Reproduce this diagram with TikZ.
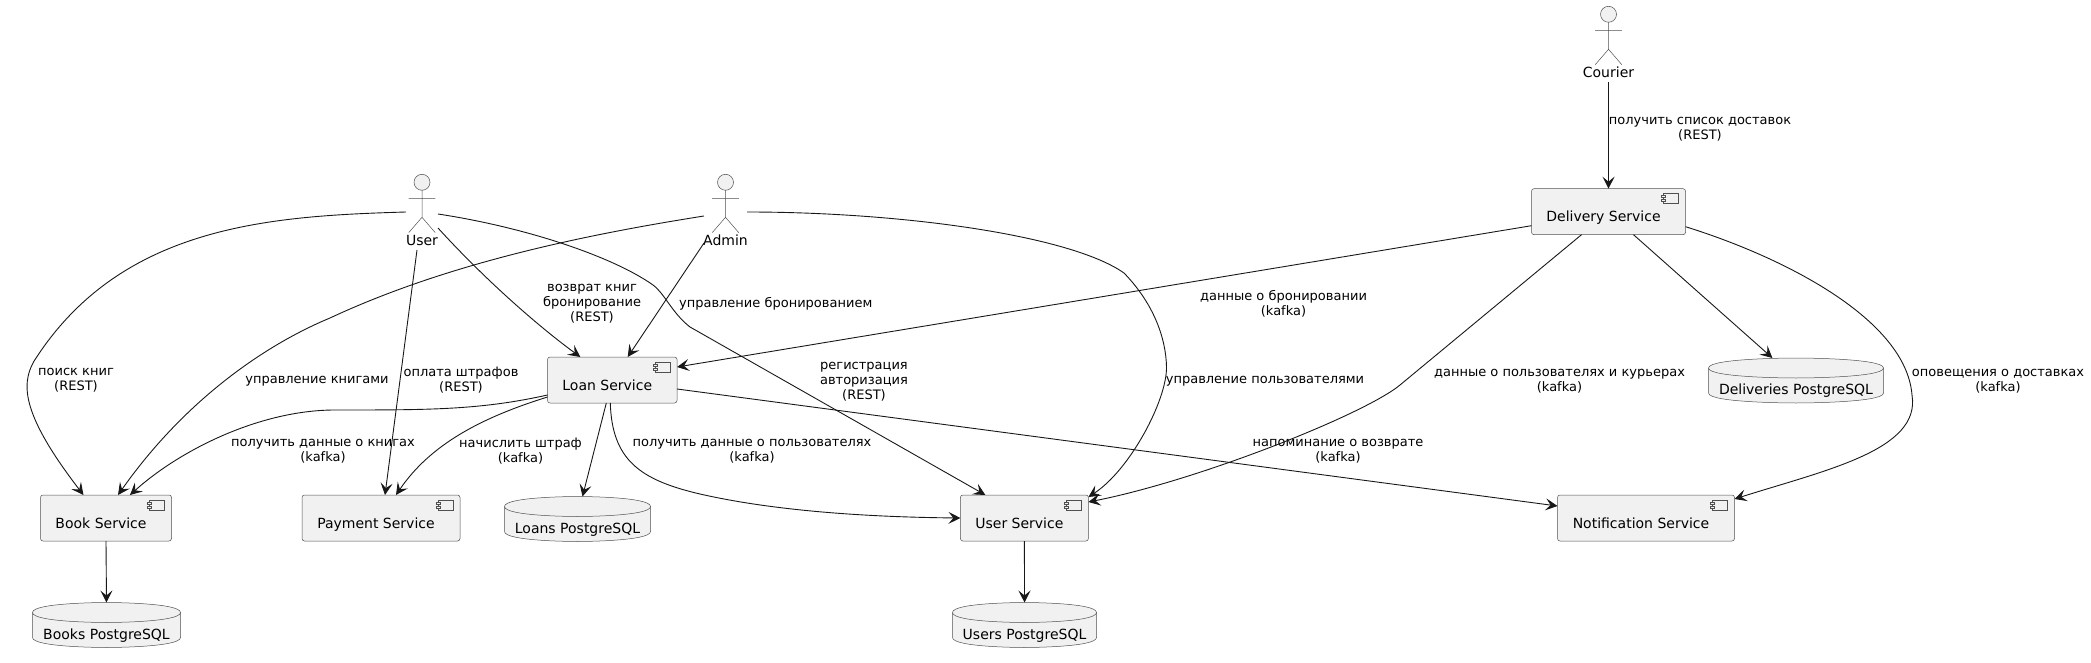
\documentclass[tikz,border=0pt]{standalone}
\usepackage{fontspec}
\setmainfont{DejaVu Sans}
\usetikzlibrary{arrows.meta,backgrounds}
\definecolor{boxfill}{HTML}{F1F1F1}
\definecolor{inkline}{HTML}{181818}
\definecolor{thinline}{HTML}{505050}
\tikzset{
    component/.style={draw=thinline,line width=0.5pt,fill=boxfill,rounded corners=2.5pt,minimum height=46pt,inner sep=0pt,outer sep=0pt},
    dbbox/.style={minimum height=45pt,inner sep=0pt,outer sep=0pt},
    dbline/.style={draw=thinline,line width=0.5pt,fill=boxfill},
    actorbox/.style={minimum height=76pt,inner sep=0pt,outer sep=0pt},
    actorline/.style={draw=thinline,line width=0.5pt,fill=boxfill},
    nametext/.style={font=\fontsize{14}{16.3}\selectfont,text=black,inner sep=0pt,text height=10.5pt,text depth=3pt},
    linktext/.style={font=\fontsize{13}{15.2}\selectfont,text=black,align=center,inner sep=0pt},
    link/.style={draw=inkline,line width=0.9pt,-{Stealth[length=12pt,width=12pt,inset=5pt]}},
}
\begin{document}
\begin{tikzpicture}[x=1pt,y=-1pt]
    \useasboundingbox (0,0) rectangle (2091,663);
    \foreach \pos/\name/\boxw/\txt in {
        {(106,518)/book/131/Book Service}, {(381,518)/payment/158/Payment Service},
        {(612.3,380)/loan/129.5/Loan Service}, {(1024.4,518)/usersvc/128/User Service},
        {(1608.5,211.7)/delivery/154/Delivery Service}, {(1646,518)/notify/177/Notification Service}} {
        \node[component,minimum width=\boxw pt,label={[nametext,xshift=-5pt,yshift=-6.5pt]center:\txt}] (\name) at \pos {};
        \draw[thinline,line width=0.5pt] ([xshift=-22pt,yshift=-5pt]\name.north east) rectangle ++(15,10);
        \draw[thinline,line width=0.5pt,fill=boxfill] ([xshift=-24pt,yshift=-7pt]\name.north east) rectangle ++(4,2);
        \draw[thinline,line width=0.5pt,fill=boxfill] ([xshift=-24pt,yshift=-11pt]\name.north east) rectangle ++(4,2);
    }
    \foreach \pos/\name/\boxw/\txt in {
        {(106.5,625)/booksdb/148/Books PostgreSQL}, {(577.5,519)/loansdb/146/Loans PostgreSQL},
        {(1024.5,625)/usersdb/144/Users PostgreSQL}, {(1796,380.5)/deliveriesdb/175/Deliveries PostgreSQL}} {
        \node[dbbox,minimum width=\boxw pt,label={[nametext,yshift=-10.5pt]center:\txt}] (\name) at \pos {};
        \begin{scope}[on background layer]
            \path[dbline] ([yshift=-10pt]\name.north west) .. controls (\name.north west) and (\name.north) .. (\name.north)
                .. controls (\name.north) and (\name.north east) .. ([yshift=-10pt]\name.north east)
                -- ([yshift=10pt]\name.south east) .. controls (\name.south east) and (\name.south) .. (\name.south)
                .. controls (\name.south) and (\name.south west) .. ([yshift=10pt]\name.south west) -- cycle;
            \draw[thinline,line width=0.5pt] ([yshift=-10pt]\name.north west) .. controls ([yshift=-20pt]\name.north west) and ([yshift=-20pt]\name.north) .. ([yshift=-20pt]\name.north)
                .. controls ([yshift=-20pt]\name.north) and ([yshift=-20pt]\name.north east) .. ([yshift=-10pt]\name.north east);
        \end{scope}
    }
    \foreach \pos/\name/\boxw/\txt in {
        {(422,212)/user/32/User}, {(725.5,212)/admin/43/Admin}, {(1608.5,44)/courier/52/Courier}} {
        \node[actorbox,minimum width=\boxw pt,label={[nametext,yshift=-30.25pt]center:\txt}] (\name) at \pos {};
        \begin{scope}[shift={(\name.center)}]
            \path[actorline] (0,-29.7) circle (8pt);
            \draw[thinline,line width=0.5pt] (0,-21.7) -- (0,5.3) (-13.3,-13.7) -- (13.3,-13.7)
                (-13.3,20.7) -- (0,5.3) -- (13.3,20.7);
        \end{scope}
    }
    \foreach \pos/\name/\txt in {
        {(76,380)/searchlbl/поиск книг\\(REST)},
        {(317,381)/booksadminlbl/управление книгами},
        {(461,380)/finepaylbl/оплата штрафов\\(REST)},
        {(323,451)/bookdatalbl/получить данные о книгах\\(kafka)},
        {(520.5,451)/finelbl/начислить штраф\\(kafka)},
        {(592,303.5)/returnlbl/возврат книг\\бронирование\\(REST)},
        {(775.7,303.5)/bookingadminlbl/управление бронированием},
        {(864,382)/registerlbl/регистрация\\авторизация\\(REST)},
        {(752,451)/userdatalbl/получить данные о пользователях\\(kafka)},
        {(1265,381)/usersadminlbl/управление пользователями},
        {(1283.5,304)/bookingdatalbl/данные о бронировании\\(kafka)},
        {(1338,451)/reminderlbl/напоминание о возврате\\(kafka)},
        {(1559.5,381.5)/courierdatalbl/данные о пользователях и курьерах\\(kafka)},
        {(1998,381.5)/noticelbl/оповещения о доставках\\(kafka)},
        {(1700,129.5)/deliverylistlbl/получить список доставок\\(REST)}}
        \node[linktext] (\name) at \pos {\txt};
    \path[link] (user.west) .. controls (270,216) and (120,225) .. (33.5,362)
        .. controls (21,385) and (22,415) .. ([xshift=-22.5pt]book.north);
    \path[link] ([xshift=-5pt]user.south) -- ([xshift=4pt]payment.north);
    \path[link] ([yshift=-16pt]user.east) .. controls (478,272) and (530,320) .. ([xshift=-32pt]loan.north);
    \path[link] ([yshift=-2pt]user.east) .. controls (530,228) and (615,258) .. (653,285)
        .. controls (665,294) and (672,313) .. (690,327) -- ([xshift=-39pt]usersvc.north);
    \path[link] ([yshift=-4pt]admin.west) .. controls (590,234) and (450,262) .. (330,318)
        .. controls (265,345) and (185,400) .. ([xshift=12pt]book.north);
    \path[link] ([yshift=-31pt]admin.west) -- ([xshift=15.4pt]loan.north);
    \path[link] (admin.east) .. controls (900,212) and (1070,235) .. (1124,273)
        .. controls (1155,305) and (1166,340) .. (1166.5,367)
        .. controls (1167,400) and (1130,470) .. ([yshift=-2pt]usersvc.north east);
    \path[link] ([yshift=-15pt]loan.west) .. controls (480,410) and (430,410) .. (335,410)
        .. controls (260,410) and (180,450) .. ([xshift=24pt]book.north);
    \path[link] ([yshift=-17pt]loan.west) .. controls (480,418) and (430,445) .. ([xshift=15pt]payment.north);
    \path[link] ([xshift=-6pt]loan.south) -- ([xshift=5pt]loansdb.north);
    \path[link] ([xshift=-2pt]loan.south) .. controls (612,460) and (640,480) .. (700,494)
        .. controls (770,510) and (860,517) .. (usersvc.west);
    \path[link] ([yshift=-9pt]loan.east) -- ([yshift=-11pt]notify.north west);
    \path[link] ([yshift=-14pt]delivery.west) -- ([yshift=-10pt]loan.north east);
    \path[link] ([xshift=-27pt]delivery.south) -- (1400,385)
        .. controls (1365,414) and (1200,480) .. ([yshift=-7pt]usersvc.north east);
    \path[link] ([xshift=25pt]delivery.south) -- ([xshift=-23.6pt]deliveriesdb.north);
    \path[link] ([yshift=-15pt]delivery.east) .. controls (1786,258) and (1906,320) .. (1912,395)
        .. controls (1921,450) and (1826,470) .. ([yshift=-4pt]notify.north east);
    \path[link] (courier.south) -- (delivery.north);
    \path[link] (book.south) -- (booksdb.north);
    \path[link] (usersvc.south) -- (usersdb.north);
\end{tikzpicture}
\end{document}
